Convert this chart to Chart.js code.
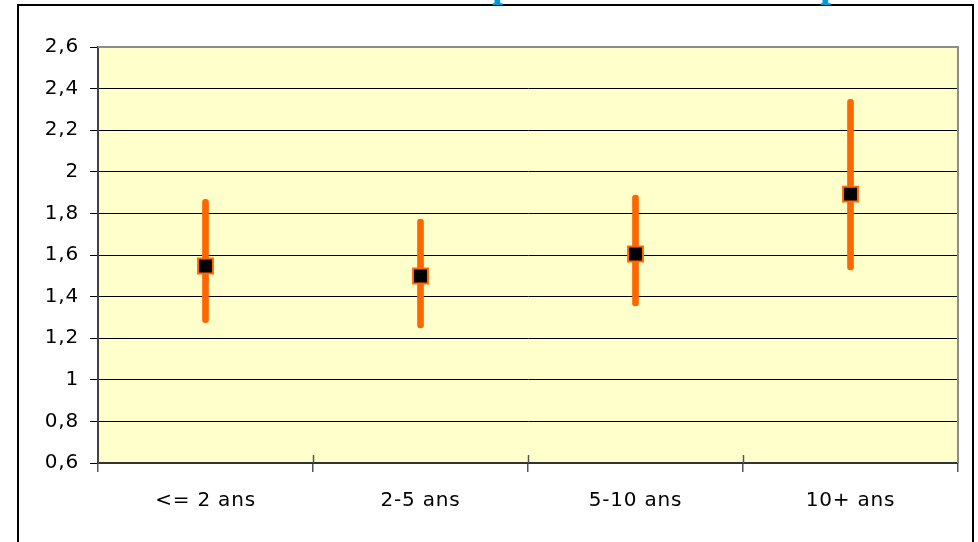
<!DOCTYPE html>
<html>
<head>
<meta charset="utf-8">
<script src="https://cdn.jsdelivr.net/npm/chart.js@4/dist/chart.umd.min.js"></script>
<style>
  html, body { margin: 0; padding: 0; background: #fff; width: 978px; height: 542px; overflow: hidden; }
  #frame { position: absolute; left: 17px; top: 4px; width: 957px; height: 600px; border: 2px solid #000; box-sizing: border-box; }
  #titleclip { position: absolute; left: 0; top: 0; width: 978px; height: 9px; overflow: hidden; z-index: 3; }
  #titleclip span { position: absolute; top: -37px; font-family: "Liberation Serif", "Times New Roman", serif; font-weight: bold; font-size: 40px; line-height: 40px; color: #0099DD; }
  canvas { position: absolute; left: 0; top: 0; z-index: 2; }
</style>
</head>
<body>
<div id="frame"></div>
<div id="titleclip"><span style="left:492px">p</span><span style="left:820px">p</span></div>
<canvas id="c" width="978" height="542"></canvas>
<script>
const categories = ['<= 2 ans', '2-5 ans', '5-10 ans', '10+ ans'];
const means = [1.547, 1.499, 1.605, 1.893];
const lows  = [1.275, 1.250, 1.355, 1.528];
const highs = [1.868, 1.773, 1.888, 2.348];
const yMin = 0.6, yMax = 2.6, yStep = 0.2;

const ranges = lows.map((lo, i) => [lo, highs[i]]);

function setSpacing(chart) {
  if ('letterSpacing' in chart.ctx) chart.ctx.letterSpacing = '0.8px';
}

const plotDeco = {
  id: 'plotDeco',
  afterInit(chart) { setSpacing(chart); },
  beforeUpdate(chart) { setSpacing(chart); },
  beforeDraw(chart) {
    setSpacing(chart);
    const {ctx, chartArea: a} = chart;
    ctx.save();
    ctx.fillStyle = '#FFFFCC';
    ctx.fillRect(a.left, a.top, a.right - a.left, a.bottom - a.top);
    ctx.restore();
  },
  afterDraw(chart) {
    const {ctx, chartArea: a, scales} = chart;
    ctx.save();
    ctx.strokeStyle = '#8c8c8c';
    ctx.lineWidth = 2;
    ctx.beginPath();
    ctx.moveTo(a.left, a.top);
    ctx.lineTo(a.right, a.top);
    ctx.lineTo(a.right, a.bottom);
    ctx.stroke();
    const xs = scales.x;
    ctx.strokeStyle = '#555';
    ctx.lineWidth = 1.5;
    for (let i = 1; i < categories.length; i++) {
      const x = Math.round((xs.getPixelForValue(i - 1) + xs.getPixelForValue(i)) / 2) + 0.5;
      ctx.beginPath();
      ctx.moveTo(x, a.bottom - 8);
      ctx.lineTo(x, a.bottom);
      ctx.stroke();
    }
    ctx.restore();
  }
};

const fontSpec = { family: '"DejaVu Sans", "Liberation Sans", Arial, sans-serif', size: 20 };

new Chart(document.getElementById('c'), {
  data: {
    labels: categories,
    datasets: [
      {
        type: 'line',
        data: means,
        showLine: false,
        pointStyle: 'rect',
        pointRadius: 10.5,
        pointBackgroundColor: '#000000',
        pointBorderColor: '#FF6600',
        pointBorderWidth: 2,
        order: 0
      },
      {
        type: 'bar',
        data: ranges,
        backgroundColor: '#FF6600',
        barThickness: 6,
        borderRadius: 3,
        borderSkipped: false,
        order: 1
      }
    ]
  },
  options: {
    responsive: false,
    animation: false,
    layout: { padding: { left: 0, top: 47, right: 20, bottom: 0 } },
    plugins: { legend: { display: false }, tooltip: { enabled: false }, title: { display: false } },
    scales: {
      x: {
        type: 'category',
        offset: true,
        afterFit(scale) { scale.height = 79; },
        grid: { offset: true, drawOnChartArea: false, drawTicks: true, tickLength: 9, tickColor: '#555', lineWidth: 1.5 },
        border: { display: true, color: '#333', width: 2 },
        ticks: { font: fontSpec, color: '#000', padding: 17, maxRotation: 0 }
      },
      y: {
        min: yMin,
        max: yMax,
        afterFit(scale) { scale.width = 98; },
        grid: { color: '#000', lineWidth: 1, tickLength: 8, tickColor: '#000' },
        border: { display: true, color: '#444', width: 2 },
        ticks: {
          stepSize: yStep,
          font: fontSpec,
          color: '#000',
          padding: 11,
          callback: v => String(Math.round(v * 10) / 10).replace('.', ',')
        }
      }
    }
  },
  plugins: [plotDeco]
});
</script>
</body>
</html>
